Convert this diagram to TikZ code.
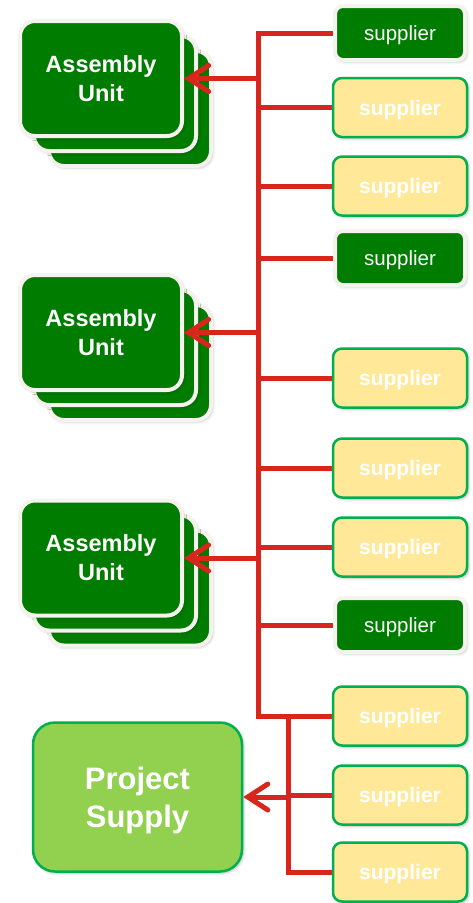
\documentclass[tikz,border=0pt]{standalone}
\usepackage{fontspec}
\setmainfont{Liberation Sans}
\usetikzlibrary{arrows.meta,shadows.blur}
\definecolor{dkgreen}{RGB}{0,124,0}
\definecolor{cream}{RGB}{245,243,238}
\definecolor{yel}{RGB}{255,233,153}
\definecolor{bgreen}{RGB}{0,176,80}
\definecolor{lgreen}{RGB}{146,208,80}
\definecolor{redc}{RGB}{217,38,28}
\begin{document}
\begin{tikzpicture}[x=1pt,y=-1pt,
  shad/.style={blur shadow={shadow xshift=1.5pt,shadow yshift=-1.5pt,shadow blur radius=3pt,shadow opacity=30}},
  unitbox/.style={shad,rounded corners=15pt,fill=dkgreen,draw=cream,line width=4pt,
    minimum width=162pt,minimum height=115pt,inner sep=0pt,text=white,align=center,
    font=\bfseries\fontsize{23.5}{29}\selectfont},
  supg/.style={shad,rounded corners=8pt,fill=dkgreen,draw=cream,line width=4pt,
    minimum width=130pt,minimum height=54pt,inner sep=0pt,text=white,text depth=0pt,
    font=\fontsize{20.5}{24}\selectfont},
  supy/.style={shad,rounded corners=9pt,fill=yel,draw=bgreen,line width=2.5pt,
    minimum width=134pt,minimum height=59pt,inner sep=0pt,text=white,text depth=0pt,
    font=\bfseries\fontsize{21}{24}\selectfont},
  projbox/.style={shad,rounded corners=22pt,fill=lgreen,draw=bgreen,line width=2.5pt,
    minimum width=209pt,minimum height=149pt,inner sep=0pt,text=white,align=center,
    text depth=0pt,font=\bfseries\fontsize{31}{38}\selectfont},
  redline/.style={draw=redc,line width=5pt,line join=miter},
  redarrow/.style={redline,-{Straight Barb[length=20pt,width=26pt,line cap=round]}}
]
\useasboundingbox (0,0) rectangle (473,903);

% assembly unit stacks
\foreach \cy/\nm in {78.5/a1,332.5/a2,558/a3}{
  \node[unitbox] (\nm c) at (130,\cy+30) {};
  \node[unitbox] (\nm b) at (115,\cy+15) {};
  \node[unitbox] (\nm) at (101,\cy) {Assembly\\Unit};
}

% suppliers
\node[supg] (s1) at (400,33) {supplier};
\node[supy] (s2) at (400,107.5) {supplier};
\node[supy] (s3) at (400,186) {supplier};
\node[supg] (s4) at (400,258) {supplier};
\node[supy] (s5) at (400,378) {supplier};
\node[supy] (s6) at (400,468) {supplier};
\node[supy] (s7) at (400,547) {supplier};
\node[supg] (s8) at (400,625) {supplier};
\node[supy] (s9) at (400,716) {supplier};
\node[supy] (s10) at (400,795) {supplier};
\node[supy] (s11) at (400,872) {supplier};

\node[projbox] (p) at (137.5,797) {Project\\Supply};

\coordinate (t) at (258,0);
\coordinate (u) at (288,0);

\draw[redline] (s1.west) -- (s1.west -| t) -- (s9.west -| t) -- (s9.west);
\foreach \s in {s2,s3,s4,s5,s6,s7,s8}{
  \draw[redline] (\s.west -| t) -- (\s.west);
}
\foreach \a in {a1,a2,a3}{
  \draw[redarrow] (\a.east -| t) -- (\a.east);
}
\draw[redline] (s9.west -| u) -- (s11.west -| u) -- (s11.west);
\draw[redline] (s10.west -| u) -- (s10.west);
\draw[redarrow] (p.east -| u) -- (p.east);
\end{tikzpicture}
\end{document}
